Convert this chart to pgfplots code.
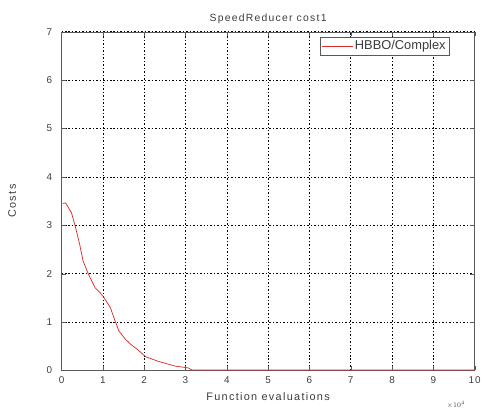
\documentclass[border=0pt]{standalone}
\usepackage{pgfplots}
\pgfplotsset{compat=1.18}
\usepackage{fontspec}
\setmainfont{Liberation Sans}
\newfontfamily\spaced[LetterSpace=12]{Liberation Sans}
\definecolor{txt}{RGB}{60,60,60}
\definecolor{costred}{RGB}{220,45,45}
\begin{document}
\begin{tikzpicture}[x=1bp,y=1bp]
\begin{axis}[
  scale only axis,
  width=416bp, height=341bp,
  xmin=0, xmax=10, ymin=0, ymax=7,
  xtick={0,1,...,10}, ytick={0,1,...,7},
  grid=major,
  major grid style={black, dash pattern=on 1.5pt off 2pt, line width=0.55pt},
  axis line style={gray!70!black},
  tick style={gray!70!black},
  tick align=inside,
  ticklabel style={font=\spaced\fontsize{10}{11}\selectfont, text=txt},
  xticklabel style={yshift=-3bp},
  yticklabel style={xshift=-6bp},
  /pgf/number format/assume math mode=true,
  title={SpeedReducer cost1},
  title style={font=\spaced\fontsize{10.5}{12}\selectfont, text=txt, yshift=-1bp},
  xlabel={Function evaluations},
  ylabel={Costs},
  label style={font=\spaced\fontsize{11}{12}\selectfont, text=txt},
  xlabel style={yshift=-2bp},
  ylabel style={yshift=24bp},
  legend style={at={(rel axis cs:0.94,0.985)}, anchor=north east,
    font=\fontsize{13}{15}\selectfont, text=txt, draw=gray!70!black,
    inner xsep=2bp, inner ysep=1.5bp},
  legend image post style={xscale=1.8},
  legend cell align=left,
  clip=false,
]
\addplot[draw=costred, line width=0.75pt] coordinates {
(0.03,3.45) (0.1,3.46) (0.24,3.26) (0.34,2.95) (0.44,2.6) (0.52,2.26)
(0.65,1.99) (0.81,1.71) (0.93,1.61) (1.03,1.5) (1.18,1.3) (1.28,1.06)
(1.39,0.81) (1.55,0.64) (1.67,0.54) (1.84,0.43) (2.04,0.28) (2.33,0.19)
(2.74,0.09) (3.07,0.05) (3.15,0.01) (4,0.008) (6,0.006) (8,0.005) (10,0.005)
};
\addlegendentry{HBBO/Complex}
\node[font=\fontsize{7}{8}\selectfont, text=txt, anchor=north east] at (rel axis cs:0.985,-0.08) {$\times10^{4}$};
\end{axis}
\path[use as bounding box] (current axis.south west) ++(-62bp,-39bp) rectangle ++(484bp,412bp);
\end{tikzpicture}
\end{document}
